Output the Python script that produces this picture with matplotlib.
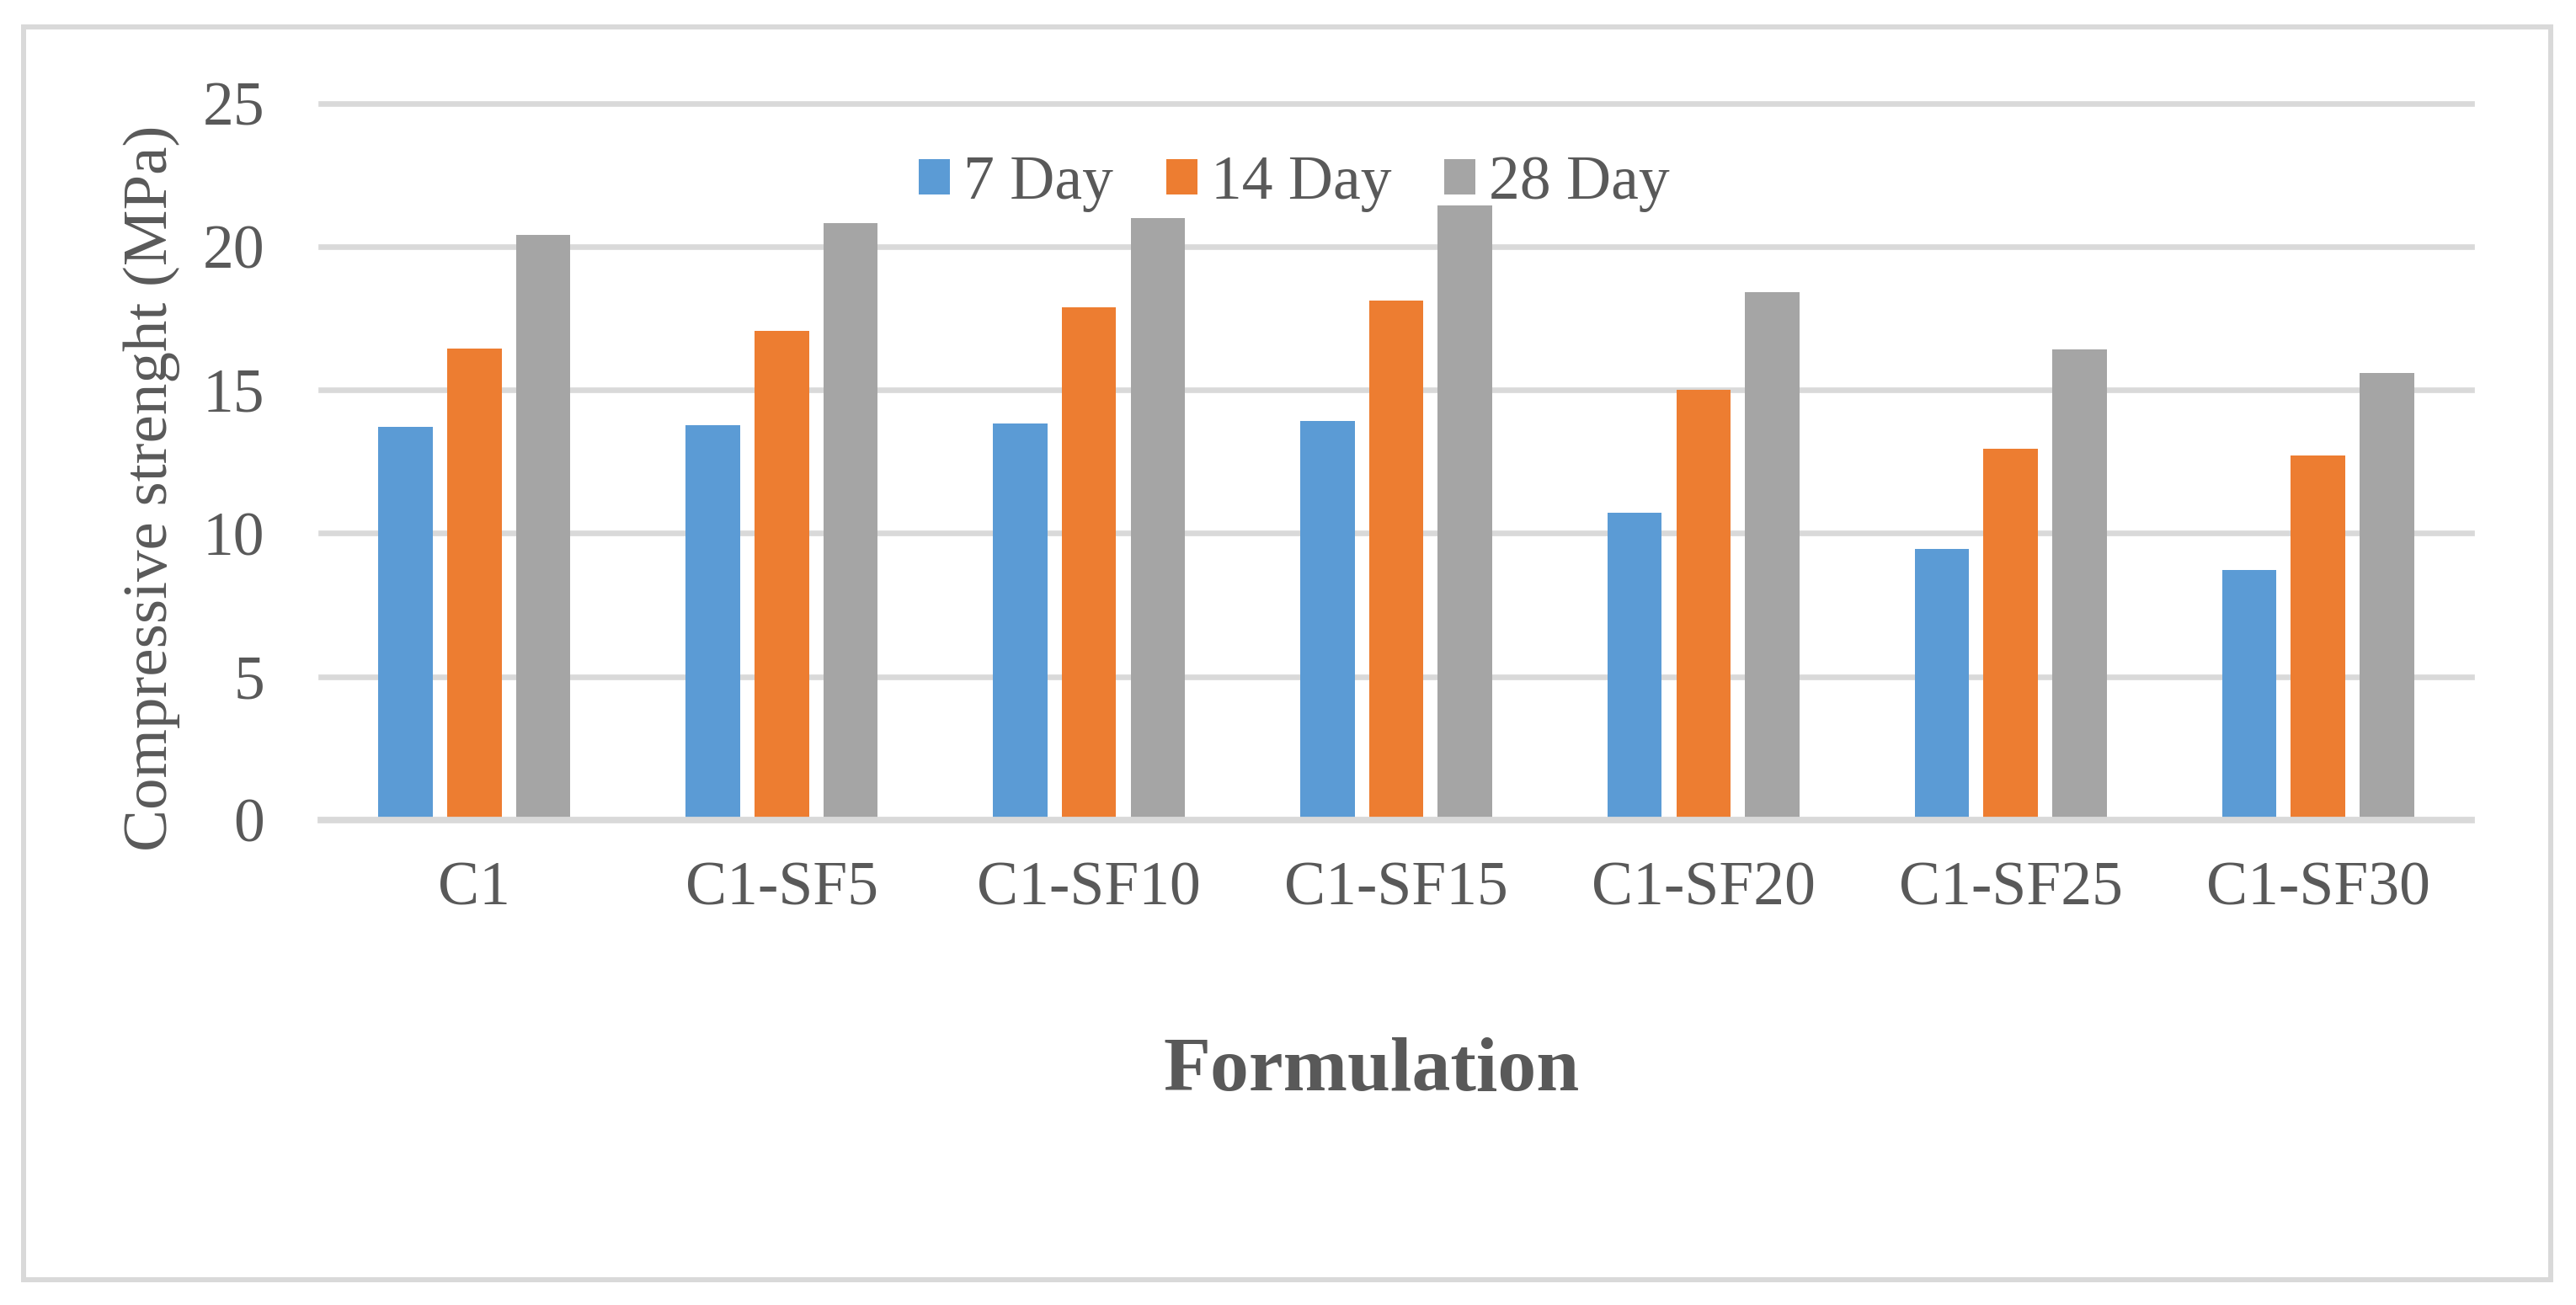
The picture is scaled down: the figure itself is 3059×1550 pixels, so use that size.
import matplotlib
matplotlib.use("Agg")
import matplotlib.pyplot as plt
from matplotlib.patches import Rectangle
import numpy as np

categories = ["C1", "C1-SF5", "C1-SF10", "C1-SF15", "C1-SF20", "C1-SF25", "C1-SF30"]
day7 = [13.72, 13.77, 13.83, 13.91, 10.73, 9.45, 8.73]
day14 = [16.45, 17.06, 17.88, 18.12, 14.99, 12.95, 12.72]
day28 = [20.40, 20.81, 20.98, 21.43, 18.41, 16.41, 15.58]
series_names = ["7 Day", "14 Day", "28 Day"]
colors = ["#5B9BD5", "#ED7D31", "#A5A5A5"]
y_ticks = [0, 5, 10, 15, 20, 25]

plt.rcParams['font.family'] = ['Liberation Serif', 'DejaVu Serif']
text_color = "#595959"
grid_color = "#D9D9D9"

W, H = 3059, 1550
fig = plt.figure(figsize=(W / 100, H / 100), dpi=100)

ax_l, ax_r, ax_t, ax_b = 381, 2935, 122.5, 974
ax = fig.add_axes([ax_l / W, 1 - ax_b / H, (ax_r - ax_l) / W, (ax_b - ax_t) / H])

x = np.arange(len(categories))
width = 0.177
offset = 0.224
for i, (vals, name, c) in enumerate(zip([day7, day14, day28], series_names, colors)):
    ax.bar(x + (i - 1) * offset, vals, width=width, color=c, label=name, zorder=2)

ax.set_xlim(-0.5, len(categories) - 0.5)
ax.set_ylim(0, 25)

for yv in y_ticks:
    if yv == 0:
        ax.axhline(yv, color=grid_color, lw=5.6, zorder=3, clip_on=False)
    else:
        ax.axhline(yv, color=grid_color, lw=4.8, zorder=1, clip_on=False)

for s in ax.spines.values():
    s.set_visible(False)

ax.set_yticks(y_ticks)
ax.set_yticklabels([str(v) for v in y_ticks])
ax.set_xticks(x)
ax.set_xticklabels(categories)
ax.tick_params(axis='y', length=0, pad=48, labelsize=53, labelcolor=text_color)
ax.tick_params(axis='x', length=0, pad=35, labelsize=53, labelcolor=text_color)

fig.text(180 / W, 1 - 580 / H, "Compressive strenght (MPa)", rotation=90,
         ha='center', va='center', fontsize=54, color=text_color)
fig.text(1629 / W, 1 - 1273 / H, "Formulation", ha='center', va='center',
         fontsize=66, fontweight='bold', color=text_color)

leg = fig.legend(loc='center', bbox_to_anchor=(1537 / W, 1 - 218 / H), ncol=3,
                 frameon=False, fontsize=53, handlelength=0.5, handleheight=0.5,
                 handletextpad=0.22, columnspacing=0.85, borderpad=0, borderaxespad=0)
for t in leg.get_texts():
    t.set_color(text_color)

fig.patches.append(Rectangle((28 / W, 1 - 1520 / H), (3029 - 28) / W, (1520 - 32) / H,
                             transform=fig.transFigure, fill=False,
                             edgecolor=grid_color, linewidth=4.3))

fig.savefig("out.png", dpi=100, facecolor='white')
